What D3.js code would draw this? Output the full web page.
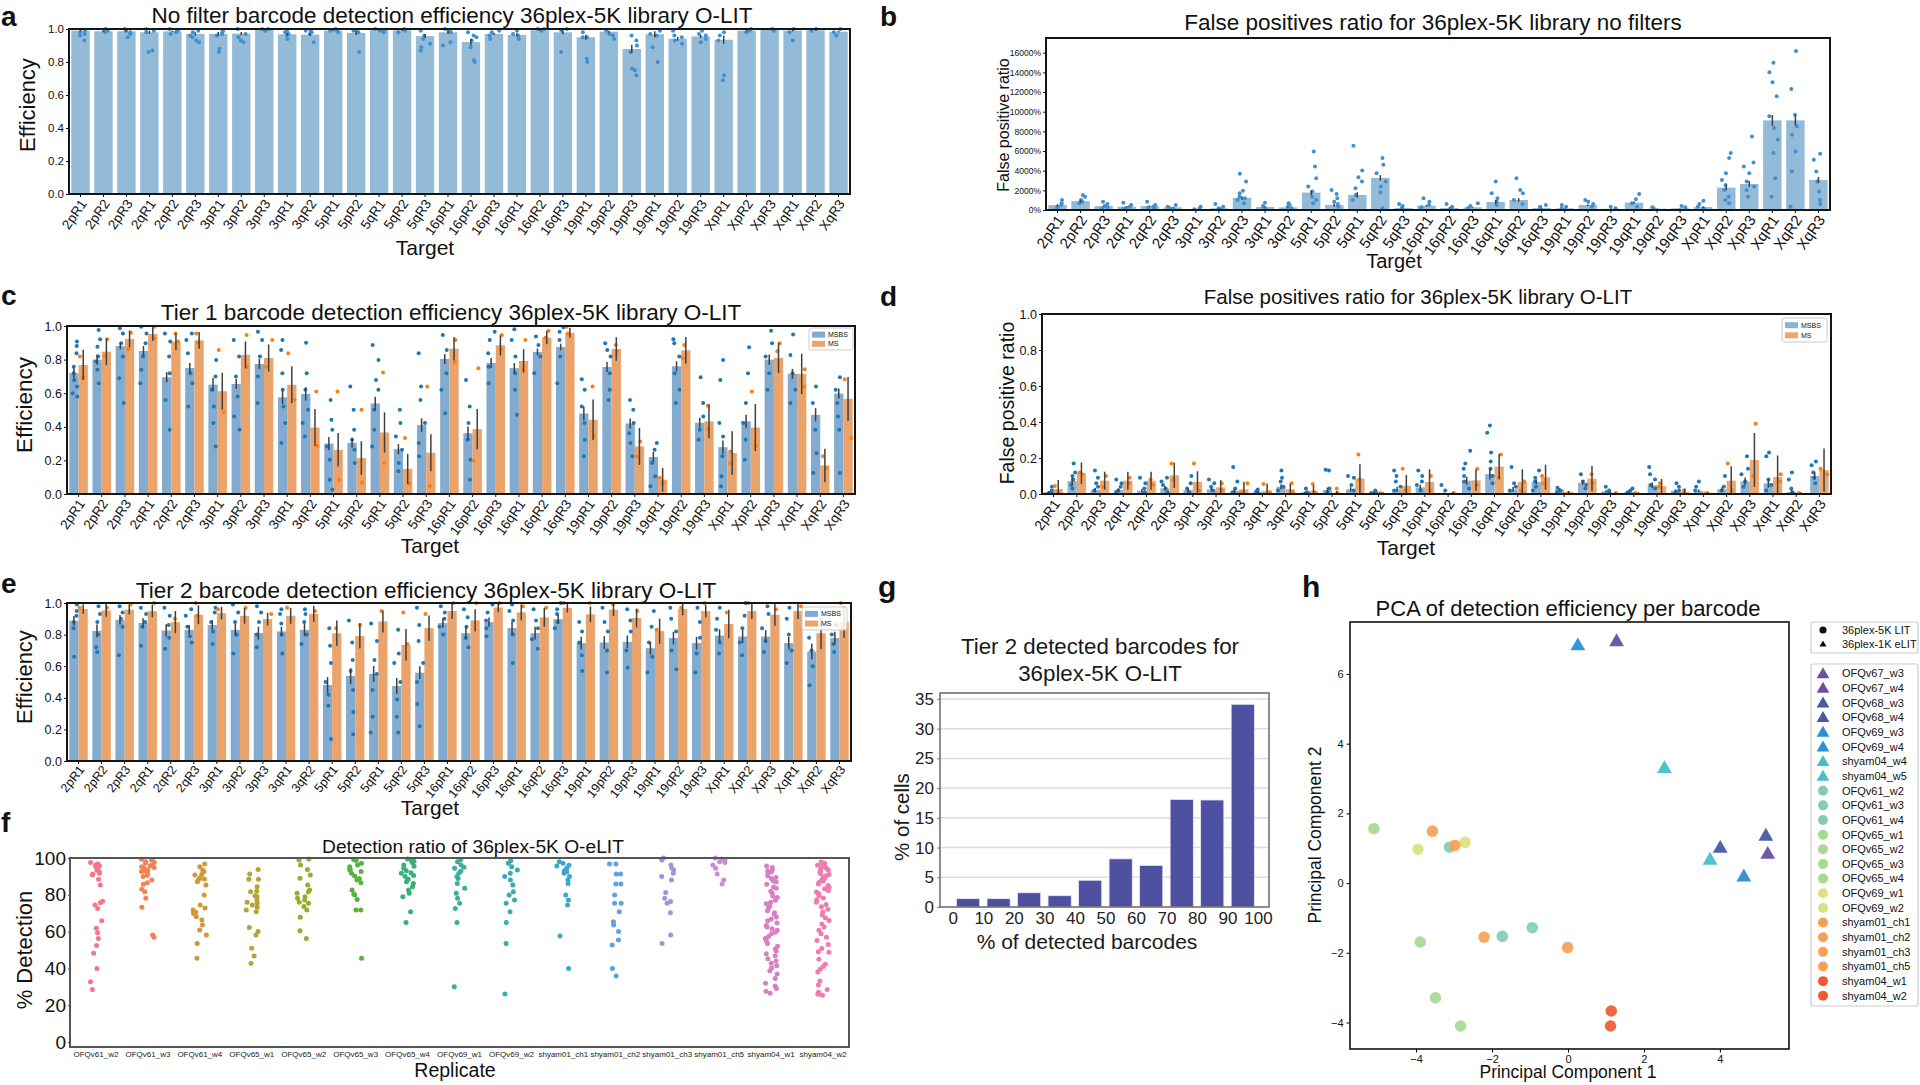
<!DOCTYPE html>
<html><head><meta charset="utf-8">
<script src="https://cdn.jsdelivr.net/npm/d3@7"></script>
<style>body{margin:0;background:#fff;} svg{display:block;}</style>
</head><body><svg id="c" width="1920" height="1085"></svg>
<script>
// ---------------- DATA ----------------
const targets = ["2pR1","2pR2","2pR3","2qR1","2qR2","2qR3","3pR1","3pR2","3pR3","3qR1","3qR2","5pR1","5pR2","5qR1","5qR2","5qR3","16pR1","16pR2","16pR3","16qR1","16qR2","16qR3","19pR1","19pR2","19pR3","19qR1","19qR2","19qR3","XpR1","XpR2","XpR3","XqR1","XqR2","XqR3"];

// panel a
const aEff = [0.99,0.986,0.986,0.98,0.986,0.97,0.97,0.972,0.996,0.968,0.966,0.99,0.976,0.994,0.992,0.957,0.98,0.921,0.97,0.964,0.992,0.98,0.95,0.984,0.879,0.968,0.941,0.955,0.935,0.99,0.996,0.99,0.992,0.984];
const aErr = [0.004,0.003,0.006,0.01,0.004,0.01,0.012,0.01,0.002,0.008,0.008,0.004,0.012,0.003,0.004,0.012,0.01,0.02,0.006,0.01,0.003,0.012,0.015,0.006,0.025,0.018,0.012,0.01,0.025,0.004,0.002,0.004,0.003,0.005];
const aDots = ["0.99 0.97 0.93 0.98 0.96","1.0 0.99 0.99 0.98","0.99 0.98 0.95 0.97 1.0","1.0 0.99 0.87 0.86 0.98","1.0 0.99 0.98 0.99 0.97","0.99 0.96 0.95 0.93 0.92 0.98","0.99 0.97 0.96 0.88 0.86 0.98","1.0 0.97 0.93 0.92 0.95","1.0 1.0 0.99","0.99 0.98 0.96 0.94 0.97","0.99 0.98 0.97 0.92 0.99","1.0 0.99 0.98 0.99","0.99 0.98 0.86 0.99","1.0 0.99 0.99 0.98","1.0 0.99 0.98","0.99 0.96 0.94 0.91 0.87 0.89","1.0 0.98 0.92 0.90 0.99","0.98 0.96 0.93 0.89 0.80 0.81 0.95","0.99 0.98 0.96 0.94","0.99 0.97 0.94 0.96","1.0 0.99 1.0","1.0 0.99 0.86","0.98 0.95 0.95 0.82 0.80","0.99 0.97 0.94 0.96","0.96 0.93 0.90 0.86 0.76 0.75 0.72","0.99 0.96 0.89 0.80 0.97","0.99 0.96 0.95 0.93 0.91","0.99 0.96 0.94 0.92 0.97","0.98 0.96 0.93 0.72 0.69","1.0 0.99 0.98","1.0 0.99","1.0 0.98 0.93","1.0 0.99","1.0 0.98 0.96"];

// panel b (percent)
const bFP = [500,900,400,340,400,270,100,170,1230,300,270,1770,500,1530,3270,200,440,200,270,820,1020,200,170,510,130,750,130,170,300,2280,2650,9120,9120,3060];
const bErr = [80,120,60,60,60,40,30,40,180,50,40,250,150,280,280,40,70,40,50,200,180,40,30,80,30,120,20,30,60,280,300,550,500,300];
const bDots = ["1020 680 510 340 170 250","1530 1360 1020 850 680 900","850 610 410 270 150","750 510 340 170 100","850 510 340 170 250","510 340 170 100","340 170 70","610 340 170 100","3680 2890 1970 1700 1360 1020 680 1200","750 410 200 120","680 510 340 170","5960 4430 3230 2380 1870 1360 1020 680","2040 1630 1190 850 610 340","6540 4020 3340 2890 2210 1530 1020","5280 4600 3740 2890 2380 1770 170","610 410 170","1190 850 510 270","610 340 140","680 410 200","2890 1700 1190 850 510","3230 2040 1700 1020 610","510 340 170","510 340 170","1020 850 610 340","340 170","1630 1090 680 340","270 140","410 270 140","950 610 340 170","5790 5280 3740 3060 2550 2040 1360 1020 680","7490 4830 4430 3740 2890 2380 2040 1360","14980 14020 13000 11570 9530 8340 7150 5790 3230 1360","16170 12320 9700 8510 7660 5960 3910 340","5720 5110 3910 2890 1870 1020 610"];

// panel c
const cMSBS = [0.719,0.80,0.881,0.851,0.695,0.75,0.651,0.655,0.774,0.576,0.596,0.30,0.305,0.539,0.267,0.41,0.804,0.362,0.78,0.749,0.846,0.875,0.479,0.756,0.42,0.22,0.76,0.424,0.279,0.432,0.80,0.715,0.471,0.598];
const cMS = [0.768,0.847,0.923,0.952,0.907,0.915,0.612,0.828,0.81,0.65,0.396,0.263,0.214,0.366,0.149,0.246,0.865,0.386,0.885,0.792,0.931,0.96,0.442,0.863,0.283,0.085,0.855,0.432,0.244,0.396,0.81,0.715,0.17,0.566];
const cErrMSBS = [0.03,0.03,0.02,0.03,0.03,0.03,0.04,0.03,0.03,0.04,0.04,0.04,0.03,0.04,0.03,0.04,0.03,0.04,0.03,0.03,0.02,0.02,0.04,0.03,0.03,0.03,0.03,0.03,0.04,0.04,0.03,0.03,0.04,0.03];
const cErrMS = [0.09,0.08,0.05,0.04,0.05,0.05,0.11,0.08,0.08,0.11,0.11,0.10,0.10,0.12,0.09,0.11,0.07,0.12,0.06,0.07,0.04,0.03,0.12,0.07,0.11,0.07,0.08,0.1,0.13,0.14,0.09,0.12,0.1,0.13];
const cDotsMSBS = ["0.907 0.881 0.838 0.758 0.719 0.679 0.640 0.580 0.60","0.976 0.921 0.877 0.818 0.788 0.739 0.659","0.986 0.956 0.897 0.818 0.689 0.541","0.996 0.956 0.897 0.818 0.739 0.659","0.956 0.907 0.818 0.719 0.560 0.382","0.956 0.917 0.838 0.719 0.659 0.521","0.798 0.699 0.620 0.521 0.422 0.283","0.917 0.818 0.699 0.580 0.461 0.382","0.966 0.917 0.818 0.699 0.541","0.917 0.857 0.719 0.620 0.521 0.422 0.303","0.901 0.719 0.620 0.501 0.422 0.343","0.560 0.442 0.382 0.283 0.204 0.085 0.026","0.640 0.501 0.382 0.323 0.263 0.184","0.887 0.798 0.679 0.620 0.501 0.382 0.283","0.501 0.422 0.343 0.263 0.184 0.135","0.838 0.640 0.560 0.422 0.303 0.224","0.947 0.857 0.719 0.620 0.481","0.679 0.521 0.422 0.323 0.204 0.085","0.966 0.917 0.838 0.758 0.659","0.980 0.917 0.818 0.719 0.620 0.471","0.937 0.887 0.818 0.719","0.992 0.966 0.917 0.818 0.659","0.683 0.620 0.521 0.422 0.323 0.224","0.897 0.857 0.818 0.719 0.620 0.560","0.560 0.501 0.422 0.362 0.303 0.224","0.303 0.263 0.184 0.105 0.046","0.921 0.897 0.818 0.719 0.620 0.541","0.695 0.541 0.461 0.382 0.323","0.798 0.679 0.422 0.343 0.224 0.105 0.046","0.873 0.719 0.541 0.422 0.323 0.204","0.972 0.897 0.818 0.719 0.620","0.950 0.828 0.719 0.620 0.541","0.640 0.541 0.382 0.243 0.125","0.695 0.620 0.541 0.461 0.382 0.125"];
const cDotsMS = ["0.818 0.695","0.921 0.818","0.96 0.861","0.996 0.927","0.956 0.907","0.956 0.901","0.857 0.485","0.947 0.758","0.917 0.758","0.838 0.560","0.610 0.287","0.610 0.085","0.501 0.069","0.723 0.184","0.333 0.061","0.640 0.046","0.917 0.782","0.749 0.200","0.947 0.86","0.917 0.739","0.972 0.93","0.996 0.956","0.640 0.347","0.887 0.85","0.313 0.224","0.095 0.065","0.887 0.808","0.525 0.386","0.253 0.184","0.610 0.287","0.897 0.85","0.743 0.640","0.224 0.154","0.683 0.333"];

// panel d
const dMSBS = [0.011,0.072,0.022,0.022,0.018,0.031,0.022,0.026,0.018,0.013,0.04,0.007,0.022,0.026,0.011,0.026,0.037,0.004,0.074,0.111,0.026,0.067,0.026,0.063,0.015,0.011,0.048,0.018,0.018,0.026,0.07,0.059,0.011,0.1];
const dMS = [0.028,0.115,0.074,0.074,0.074,0.104,0.067,0.037,0.026,0.018,0.026,0.018,0.007,0.085,0.005,0.046,0.067,0.007,0.076,0.152,0.067,0.093,0.011,0.085,0.004,0.005,0.044,0.011,0.007,0.074,0.189,0.094,0.005,0.133];
const dErrMSBS = [0.006,0.02,0.012,0.01,0.01,0.012,0.01,0.01,0.012,0.004,0.014,0.004,0.014,0.012,0.004,0.014,0.014,0.004,0.022,0.03,0.014,0.014,0.006,0.012,0.006,0.004,0.016,0.008,0.008,0.012,0.022,0.024,0.012,0.02];
const dErrMS = [0.05,0.06,0.05,0.05,0.05,0.07,0.06,0.04,0.04,0.04,0.03,0.03,0.01,0.08,0.005,0.06,0.07,0.005,0.06,0.07,0.07,0.07,0.005,0.07,0.005,0.005,0.04,0.02,0.005,0.08,0.15,0.12,0.005,0.12];
const dDotsMSBS = ["0.04 0.02 0.01 0.005","0.17 0.12 0.10 0.08 0.05 0.03","0.13 0.09 0.06 0.04 0.02","0.08 0.06 0.04 0.02 0.01","0.09 0.06 0.03 0.01","0.09 0.07 0.05 0.03 0.01","0.10 0.06 0.03 0.01","0.08 0.06 0.04 0.02","0.15 0.07 0.03 0.01","0.025 0.015 0.005","0.13 0.09 0.07 0.04 0.02","0.03 0.01 0.005","0.135 0.13 0.03 0.01","0.10 0.09 0.05 0.02","0.02 0.01 0.005","0.13 0.10 0.07 0.04 0.02","0.13 0.10 0.07 0.05 0.02","0.05 0.02","0.24 0.17 0.14 0.10 0.07 0.03","0.38 0.34 0.23 0.18 0.14 0.10 0.06","0.15 0.06 0.04 0.02","0.13 0.09 0.07 0.04 0.02","0.035 0.02 0.01","0.11 0.07 0.05 0.03","0.04 0.02 0.01","0.03 0.02 0.01","0.15 0.11 0.08 0.05 0.03","0.06 0.04 0.02 0.01","0.07 0.04 0.02","0.10 0.04 0.02","0.21 0.14 0.11 0.07 0.04","0.23 0.21 0.08 0.05 0.02","0.12 0.08 0.03 0.01","0.18 0.16 0.12 0.09 0.06"];
const dDotsMS = ["0.045 0.01","0.11 0.12","0.10 0.04","0.09 0.06","0.08 0.05","0.17 0.08","0.17 0.02","0.06 0.02","0.06 0.01","0.055 0.01","0.06 0.01","0.055 0.01","0.03 0.005","0.22 0.08","0.005","0.14 0.02","0.10 0.02","0.005","0.14 0.05","0.22 0.09","0.07 0.02","0.10 0.06","0.005","0.11 0.06","0.005","0.005","0.06 0.04","0.02 0.005","0.005","0.17 0.02","0.39 0.10","0.11 0.07","0.005","0.14 0.11"];

// panel e
const eMSBS = [0.888,0.824,0.894,0.873,0.826,0.83,0.86,0.83,0.809,0.82,0.83,0.481,0.538,0.551,0.475,0.559,0.873,0.809,0.879,0.841,0.809,0.898,0.746,0.75,0.754,0.714,0.778,0.746,0.794,0.788,0.788,0.746,0.693,0.778];
const eMS = [0.962,0.953,0.958,0.949,0.879,0.926,0.936,0.919,0.898,0.919,0.932,0.809,0.792,0.883,0.735,0.841,0.949,0.89,0.972,0.941,0.909,0.97,0.928,0.958,0.905,0.822,0.962,0.949,0.867,0.949,0.926,0.949,0.809,0.88];
const eErrMSBS = [0.03,0.04,0.03,0.03,0.04,0.03,0.03,0.04,0.04,0.03,0.04,0.05,0.05,0.05,0.05,0.04,0.03,0.04,0.03,0.04,0.04,0.03,0.04,0.04,0.04,0.04,0.04,0.04,0.04,0.04,0.04,0.04,0.05,0.04];
const eErrMS = [0.03,0.04,0.03,0.04,0.07,0.06,0.04,0.05,0.04,0.05,0.05,0.08,0.08,0.07,0.1,0.08,0.05,0.07,0.03,0.05,0.06,0.03,0.05,0.04,0.06,0.08,0.04,0.04,0.09,0.05,0.07,0.05,0.1,0.1];
const eDotsMSBS = ["0.99 0.95 0.92 0.88 0.84 0.66","0.98 0.93 0.88 0.80 0.72 0.69","0.98 0.94 0.90 0.85 0.67","0.97 0.93 0.88 0.85 0.73","0.97 0.92 0.86 0.78 0.71","0.96 0.92 0.85 0.79 0.75","0.97 0.94 0.88 0.82 0.74","0.99 0.94 0.88 0.80 0.68","0.98 0.94 0.88 0.80 0.72","0.96 0.93 0.87 0.80 0.68","0.96 0.93 0.88 0.80 0.74","0.84 0.73 0.62 0.50 0.42 0.35 0.14","0.89 0.75 0.64 0.57 0.45 0.31 0.17","0.87 0.76 0.64 0.55 0.45 0.28 0.18","0.83 0.68 0.62 0.50 0.39 0.28 0.18","0.97 0.86 0.76 0.62 0.50 0.36 0.22","0.98 0.94 0.90 0.85 0.80","0.96 0.91 0.85 0.78 0.72","0.99 0.94 0.89 0.84 0.79","0.99 0.95 0.89 0.80 0.62","0.96 0.89 0.84 0.77 0.71","1.0 0.96 0.93 0.88 0.84","0.88 0.82 0.75 0.67 0.57","0.97 0.88 0.82 0.70 0.56","0.96 0.89 0.82 0.70 0.59","0.95 0.85 0.75 0.66 0.56","0.97 0.90 0.82 0.70 0.58","0.97 0.88 0.78 0.68 0.56","0.97 0.90 0.83 0.75 0.68","1.0 0.92 0.84 0.75 0.67","0.98 0.93 0.84 0.76 0.69","0.97 0.90 0.80 0.70 0.62","0.88 0.78 0.70 0.60 0.48","0.86 0.80 0.74 0.69"];
const eDotsMS = ["0.97","0.97","0.99","1.0","0.90","1.0 0.92","0.96","0.97","0.93","0.97","0.95","0.84","0.86","0.95","0.94 0.74","0.93","1.0","1.0","1.0","0.98","0.97","1.0","1.0","0.99","0.95","0.83","0.97","1.0","0.94","1.0","0.96","0.98","0.86","1.0"];

// panel f
const replicates = ["OFQv61_w2","OFQv61_w3","OFQv61_w4","OFQv65_w1","OFQv65_w2","OFQv65_w3","OFQv65_w4","OFQv69_w1","OFQv69_w2","shyam01_ch1","shyam01_ch2","shyam01_ch3","shyam01_ch5","shyam04_w1","shyam04_w2"];
const fColors = ["#f2778d","#f3824f","#d3973a","#b5a434","#98ab33","#57b33b","#35b279","#35b09c","#37acb2","#3aa8cc","#5ea2e2","#a393d9","#c98cd9","#d97fc3","#f17aae"];
const fDots = [
 "96.7 95.3 94.4 93.5 92.6 91.7 90.8 88.4 85.3 96.2 95.7 93.8 92.0 91.3 97.5 75.7 74.5 72.6 76.5 65.9 61.8 59.4 56.3 52.4 48.2 40.0 32.8 28.6",
 "99.3 98.9 98.0 97.1 96.2 95.3 94.4 93.5 92.6 91.7 89.9 88.0 85.7 83.0 81.7 78.1 73.2 58.2 56.9 99.0 97.6 95.8 94.8 93.0 90.5 86.5",
 "96.7 95.3 92.6 90.8 89.0 88.0 87.1 85.3 79.9 74.5 71.7 69.9 68.1 66.3 63.6 60.9 58.2 53.6 45.5 93.5 91.0 88.6 70.5 72.8",
 "93.8 91.3 88.4 84.4 81.7 79.0 77.2 74.5 73.2 71.7 70.8 62.3 60.0 58.2 50.9 46.7 42.8 79.5 76.0 82.0 88.5 75.5",
 "98.9 96.2 93.8 90.8 89.0 85.3 82.6 80.8 79.0 78.1 77.2 75.4 73.6 71.7 67.8 60.5 56.3 99.5 81.5 76.0",
 "98.6 97.1 96.2 95.3 93.5 92.6 91.7 90.2 88.9 86.6 82.6 79.9 77.5 71.7 45.5 99.2 94.0 88.0 80.5 71.7",
 "98.9 97.5 96.2 94.4 93.1 91.7 89.9 87.1 86.2 84.4 82.6 80.8 79.0 70.8 64.9 99.5 98.2 95.5 92.0 90.5 88.5",
 "98.0 96.2 94.4 91.7 88.9 86.2 83.5 80.8 78.1 75.4 72.6 64.9 30.1 99.0 95.0 92.8 90.0",
 "98.6 97.1 95.3 93.5 91.7 89.9 88.0 85.3 81.7 79.9 77.2 75.4 70.8 64.9 53.6 26.1",
 "97.1 95.7 94.4 93.1 91.7 89.9 88.0 86.2 79.9 77.2 74.5 57.6 40.0 98.0 96.0 92.5",
 "96.7 91.3 85.9 79.9 75.4 70.8 65.4 63.6 60.0 55.4 52.7 40.0 35.9 96.7 91.3 85.9 75.4",
 "98.9 96.2 93.5 91.7 89.9 88.0 81.2 78.1 76.3 75.4 70.3 58.2 53.6 100 94.5",
 "98.9 97.5 96.2 94.4 91.3 88.0 85.9 99.5 98.0 100",
 "95.6 94.9 93.8 93.1 92.4 91.5 90.3 89.6 88.8 87.5 86.9 85.7 84.2 83.6 82.0 80.9 79.4 78.6 77.1 76.0 75.2 73.8 72.9 71.4 70.2 69.5 68.0 66.8 65.9 64.7 63.3 62.5 61.6 60.8 59.7 58.9 57.4 56.2 55.0 53.5 52.1 50.6 49.4 48.0 46.9 45.3 44.0 42.8 41.5 40.2 38.7 36.9 34.5 32.0 30.4 29.1 27.6 26.5",
 "97.8 97.2 96.6 96.0 95.4 94.7 94.1 93.5 92.9 92.2 91.6 91.0 90.3 89.6 88.9 88.2 87.5 86.7 85.9 85.0 84.1 83.3 82.4 81.5 80.6 79.5 78.3 77.2 76.0 74.8 73.5 72.1 70.6 69.0 67.5 66.0 64.2 62.5 60.8 58.9 57.0 55.2 53.0 50.8 49.0 48.8 45.0 42.3 41.0 39.6 38.0 33.2 31.0 28.5 27.0 26.0 25.4"
];

// panel g
const gBinStart = [0,10,20,30,40,50,60,70,80,90];
const gCells = [1.4,1.4,2.4,1.9,4.5,8.1,7.0,18.1,18.0,34.1];
const gTicksX = [0,10,20,30,40,50,60,70,80,90,100];
const gTicksY = [0,5,10,15,20,25,30,35];

// panel h
const hNames = ["OFQv67_w3","OFQv67_w4","OFQv68_w3","OFQv68_w4","OFQv69_w3","OFQv69_w4","shyam04_w4","shyam04_w5","OFQv61_w2","OFQv61_w3","OFQv61_w4","OFQv65_w1","OFQv65_w2","OFQv65_w3","OFQv65_w4","OFQv69_w1","OFQv69_w2","shyam01_ch1","shyam01_ch2","shyam01_ch3","shyam01_ch5","shyam04_w1","shyam04_w2"];
const hLibrary = ["1K","1K","1K","1K","1K","1K","1K","1K","5K","5K","5K","5K","5K","5K","5K","5K","5K","5K","5K","5K","5K","5K","5K"];
const hColors = ["#6a4fa4","#6a4fa4","#4a57a8","#4a57a8","#2d8fd3","#2d8fd3","#45bfcb","#45bfcb","#80cfb2","#80cfb2","#80cfb2","#a6d993","#a6d993","#a6d993","#a6d993","#d8e37e","#d8e37e","#f9a057","#f9a057","#f9a057","#f9a057","#ef5a34","#ef5a34"];
const hPC1 = [1.28,5.26,4.01,5.21,0.26,4.63,2.54,3.74,-3.12,-1.73,-0.94,-5.11,-3.89,-3.49,-2.83,-3.95,-2.71,-3.57,-2.98,-2.21,-0.01,1.14,1.12];
const hPC2 = [6.92,0.82,0.99,1.34,6.80,0.17,3.28,0.65,1.03,-1.53,-1.28,1.56,-1.69,-3.29,-4.10,0.97,1.17,1.49,1.08,-1.55,-1.85,-3.67,-4.10];
const hTicksX = [-4,-2,0,2,4];
const hTicksY = [-4,-2,0,2,4,6];

// ---------------- DRAWING ----------------
const FONT = '"Liberation Sans", Arial, Helvetica, sans-serif';
const svg = d3.select("#c");
svg.append("rect").attr("width",1920).attr("height",1085).attr("fill","#fff");

function txt(x,y,s,size,opt={}){
  const t = svg.append("text").attr("x",x).attr("y",y).text(s)
    .attr("font-size",size).attr("font-family",FONT)
    .attr("text-anchor",opt.anchor||"middle").attr("fill",opt.fill||"#111");
  if(opt.weight) t.attr("font-weight",opt.weight);
  if(opt.dy) t.attr("dy",opt.dy);
  if(opt.rotate!=null) t.attr("transform",`rotate(${opt.rotate},${x},${y})`);
  return t;
}
const parse = s => s.trim().split(/\s+/).map(Number);
function jit(i,j,k){ const v=Math.sin(i*127.1+j*311.7+k*74.7+1.3)*43758.5453; return v-Math.floor(v)-0.5; }

function barPanel(c){
  const b=c.box;
  const x=d3.scaleBand().domain(targets).range([b.l,b.r]);
  const y=d3.scaleLinear().domain(c.ydom).range([b.b,b.t]);
  const g=svg.append("g");
  const n=c.series.length, gw=x.bandwidth()*0.8, bw=gw/n;
  const cx=(d,si)=>x(d)+x.bandwidth()/2-gw/2+bw*(si+0.5);
  c.series.forEach((s,si)=>{
    g.append("g").selectAll("rect").data(targets).join("rect")
      .attr("x",d=>cx(d,si)-bw/2).attr("width",bw)
      .attr("y",(d,i)=>y(s.values[i])).attr("height",(d,i)=>y(c.ydom[0])-y(s.values[i]))
      .attr("fill",s.color);
  });
  c.series.forEach((s,si)=>{
    const pts=[];
    targets.forEach((d,i)=>parse(s.dots[i]).forEach((v,j)=>pts.push({d,i,j,v})));
    g.append("g").selectAll("circle").data(pts).join("circle")
      .attr("cx",p=>cx(p.d,si)+jit(p.i,p.j,si)*bw*c.jitter)
      .attr("cy",p=>y(Math.min(p.v,c.ydom[1]))).attr("r",c.r).attr("fill",s.dotColor);
  });
  c.series.forEach((s,si)=>{
    g.append("g").selectAll("line").data(targets).join("line")
      .attr("x1",d=>cx(d,si)).attr("x2",d=>cx(d,si))
      .attr("y1",(d,i)=>y(Math.max(c.ydom[0],s.values[i]-s.err[i])))
      .attr("y2",(d,i)=>y(Math.min(c.ydom[1],s.values[i]+s.err[i])))
      .attr("stroke","#404040").attr("stroke-width",1.5);
  });
  const yg=svg.append("g").attr("transform",`translate(${b.l},0)`)
    .call(d3.axisLeft(y).tickValues(c.yticks).tickFormat(c.yfmt).tickSize(3).tickPadding(2));
  yg.select(".domain").remove();
  yg.selectAll("text").attr("font-size",c.ytickSize).attr("font-family",FONT).attr("fill","#111");
  yg.selectAll("line").attr("stroke","#111");
  const xg=svg.append("g").attr("transform",`translate(0,${b.b})`)
    .call(d3.axisBottom(x).tickSize(3).tickPadding(2));
  xg.select(".domain").remove();
  xg.selectAll("line").attr("stroke","#111");
  xg.selectAll("text").attr("font-size",c.xtickSize).attr("font-family",FONT).attr("fill","#111")
    .attr("y",0).attr("dy","0.35em").attr("text-anchor","end")
    .attr("transform",`translate(3,${c.xtickOff}) rotate(${c.rot||-55})`);
  svg.append("rect").attr("x",b.l).attr("y",b.t).attr("width",b.r-b.l).attr("height",b.b-b.t)
    .attr("fill","none").attr("stroke","#151515").attr("stroke-width",2);
  txt(c.title[0],c.title[1],c.title[2],c.title[3]);
  txt(c.ylab[0],c.ylab[1],c.ylab[2],c.ylab[3],{rotate:-90});
  txt(c.xlab[0],c.xlab[1],"Target",c.xlab[2]);
  if(c.legend){
    const L=c.legend;
    svg.append("rect").attr("x",L[0]).attr("y",L[1]).attr("width",L[2]).attr("height",L[3])
      .attr("fill","#fff").attr("fill-opacity",0.85).attr("stroke","#ccc").attr("stroke-width",1).attr("rx",2);
    c.series.forEach((s,si)=>{
      const yy=L[1]+L[3]*(si===0?0.3:0.72);
      svg.append("rect").attr("x",L[0]+3).attr("y",yy-3).attr("width",13).attr("height",6).attr("fill",s.color);
      txt(L[0]+19,yy+2.5,s.name,7,{anchor:"start"});
    });
  }
}

const BLUE_BAR="#82abcf", ORANGE_BAR="#eaa46b", BLUE_DOT="#1f77b4", ORANGE_DOT="#ff7f0e";

// panel a
barPanel({box:{l:69,r:850,t:29,b:194}, ydom:[0,1], yticks:[0,0.2,0.4,0.6,0.8,1.0], yfmt:d3.format(".1f"),
  ytickSize:11.5, xtickSize:13.5, xtickOff:7, r:2, jitter:0.6,
  series:[{name:"",values:aEff,err:aErr,dots:aDots,color:"#93bad6",dotColor:"#3d91d2"}],
  title:[452,23,"No filter barcode detection efficiency 36plex-5K library O-LIT",22.5],
  ylab:[35,105,"Efficiency",22], xlab:[425,255,21]});
txt(1,26,"a",28,{anchor:"start",weight:"bold"});

// panel b
barPanel({box:{l:1046,r:1830,t:38,b:210}, ydom:[0,17500], yticks:d3.range(0,16001,2000), yfmt:d=>d+"%",
  ytickSize:8.5, xtickSize:15, xtickOff:7, r:2, jitter:0.6,
  series:[{name:"",values:bFP,err:bErr,dots:bDots,color:"#93bad6",dotColor:"#3d91d2"}],
  title:[1433,30,"False positives ratio for 36plex-5K library no filters",22.5],
  ylab:[1009,125,"False positive ratio",16], xlab:[1394,268,20]});
txt(880,26,"b",28,{anchor:"start",weight:"bold"});

// panel c
barPanel({box:{l:67,r:855,t:326,b:494}, ydom:[0,1], yticks:[0,0.2,0.4,0.6,0.8,1.0], yfmt:d3.format(".1f"),
  ytickSize:12.5, xtickSize:13.5, xtickOff:7, r:2, jitter:0.8,
  series:[{name:"MSBS",values:cMSBS,err:cErrMSBS,dots:cDotsMSBS,color:BLUE_BAR,dotColor:BLUE_DOT},
          {name:"MS",values:cMS,err:cErrMS,dots:cDotsMS,color:ORANGE_BAR,dotColor:ORANGE_DOT}],
  legend:[809,328,44,22],
  title:[451,320,"Tier 1 barcode detection efficiency 36plex-5K library O-LIT",22.5],
  ylab:[32,405,"Efficiency",22.5], xlab:[430,553,21]});
txt(1,305,"c",28,{anchor:"start",weight:"bold"});

// panel d
barPanel({box:{l:1042,r:1831,t:314,b:494}, ydom:[0,1], yticks:[0,0.2,0.4,0.6,0.8,1.0], yfmt:d3.format(".1f"),
  ytickSize:12.5, xtickSize:14, xtickOff:7, r:2, jitter:0.8,
  series:[{name:"MSBS",values:dMSBS,err:dErrMSBS,dots:dDotsMSBS,color:"#8db1d3",dotColor:BLUE_DOT},
          {name:"MS",values:dMS,err:dErrMS,dots:dDotsMS,color:"#eca872",dotColor:ORANGE_DOT}],
  legend:[1782,318,45,24],
  title:[1418,304,"False positives ratio for 36plex-5K library O-LIT",20.5],
  ylab:[1014,403,"False positive ratio",19.5], xlab:[1406,555,21]});
txt(880,306,"d",28,{anchor:"start",weight:"bold"});

// panel e
barPanel({box:{l:67,r:851,t:603,b:761}, ydom:[0,1], yticks:[0,0.2,0.4,0.6,0.8,1.0], yfmt:d3.format(".1f"),
  ytickSize:12.5, xtickSize:12.5, xtickOff:6, rot:-52, r:2, jitter:0.8,
  series:[{name:"MSBS",values:eMSBS,err:eErrMSBS,dots:eDotsMSBS,color:BLUE_BAR,dotColor:BLUE_DOT},
          {name:"MS",values:eMS,err:eErrMS,dots:eDotsMS,color:ORANGE_BAR,dotColor:ORANGE_DOT}],
  legend:[802,607,45,23],
  title:[426,598,"Tier 2 barcode detection efficiency 36plex-5K library O-LIT",22.5],
  ylab:[32,677,"Efficiency",22], xlab:[430,815,21]});
txt(1,593,"e",28,{anchor:"start",weight:"bold"});

// panel f
(function(){
  const b={l:70,r:849,t:858,b:1047};
  const x=d3.scaleBand().domain(replicates).range([b.l,b.r]);
  const y=d3.scaleLinear().domain([-2.7,100]).range([b.b,b.t]);
  const pts=[];
  replicates.forEach((d,i)=>parse(fDots[i]).forEach((v,j)=>pts.push({d,i,j,v})));
  svg.append("g").selectAll("circle").data(pts).join("circle")
    .attr("cx",p=>x(p.d)+x.bandwidth()/2+jit(p.i,p.j,7)*x.bandwidth()*0.26)
    .attr("cy",p=>y(p.v)).attr("r",2.5).attr("fill",p=>fColors[p.i]);
  const yg=svg.append("g").attr("transform",`translate(${b.l},0)`)
    .call(d3.axisLeft(y).tickValues([0,20,40,60,80,100]).tickSize(2).tickPadding(2));
  yg.select(".domain").remove();
  yg.selectAll("text").attr("font-size",19).attr("font-family",FONT).attr("fill","#111");
  yg.selectAll("line").attr("stroke","#444");
  const xg=svg.append("g").attr("transform",`translate(0,${b.b})`)
    .call(d3.axisBottom(x).tickSize(0).tickPadding(4));
  xg.select(".domain").remove();
  xg.selectAll("text").attr("font-size",8).attr("font-family",FONT).attr("fill","#222");
  svg.append("rect").attr("x",b.l).attr("y",b.t).attr("width",b.r-b.l).attr("height",b.b-b.t)
    .attr("fill","none").attr("stroke","#555").attr("stroke-width",2);
  txt(473,853,"Detection ratio of 36plex-5K O-eLIT",19.2);
  txt(32,950,"% Detection",22,{rotate:-90});
  txt(455,1077,"Replicate",19.5);
  txt(1,832,"f",28,{anchor:"start",weight:"bold"});
})();

// panel g
(function(){
  const b={l:940,r:1269,t:693,b:907};
  const x=d3.scaleLinear().domain([-4.2,103.6]).range([b.l,b.r]);
  const y=d3.scaleLinear().domain([0,36]).range([b.b,b.t]);
  svg.append("g").selectAll("line").data(gTicksY.slice(1)).join("line")
    .attr("x1",b.l).attr("x2",b.r).attr("y1",d=>y(d)).attr("y2",d=>y(d))
    .attr("stroke","#dcdcdc").attr("stroke-width",1.5);
  svg.append("g").selectAll("rect").data(gCells).join("rect")
    .attr("x",(d,i)=>x(gBinStart[i]+1.2)).attr("width",(d,i)=>x(gBinStart[i]+8.8)-x(gBinStart[i]+1.2))
    .attr("y",d=>y(d)).attr("height",d=>y(0)-y(d))
    .attr("fill","#4e50a1").attr("stroke","#e8e8f4").attr("stroke-width",0.8);
  const yg=svg.append("g").attr("transform",`translate(${b.l},0)`)
    .call(d3.axisLeft(y).tickValues(gTicksY).tickSize(3).tickPadding(3));
  yg.select(".domain").remove();
  yg.selectAll("text").attr("font-size",17).attr("font-family",FONT).attr("fill","#222");
  yg.selectAll("line").attr("stroke","#888");
  const xg=svg.append("g").attr("transform",`translate(0,${b.b})`)
    .call(d3.axisBottom(x).tickValues(gTicksX).tickSize(0).tickPadding(5));
  xg.select(".domain").remove();
  xg.selectAll("text").attr("font-size",17).attr("font-family",FONT).attr("fill","#222");
  svg.append("rect").attr("x",b.l).attr("y",b.t).attr("width",b.r-b.l).attr("height",b.b-b.t)
    .attr("fill","none").attr("stroke","#6a6a6a").attr("stroke-width",1.5);
  txt(1100,654,"Tier 2 detected barcodes for",22.3,{fill:"#1a1a1a"});
  txt(1100,681,"36plex-5K O-LIT",22.3,{fill:"#1a1a1a"});
  txt(909,817,"% of cells",20.5,{rotate:-90,fill:"#1a1a1a"});
  txt(1087,949,"% of detected barcodes",21,{fill:"#1a1a1a"});
  txt(878,597,"g",30,{anchor:"start",weight:"bold"});
})();

// panel h
(function(){
  const b={l:1350,r:1789,t:622,b:1049};
  const x=d3.scaleLinear().domain([-5.74,5.82]).range([b.l,b.r]);
  const y=d3.scaleLinear().domain([-4.76,7.49]).range([b.b,b.t]);
  const tri=d3.symbol().type(d3.symbolTriangle).size(95)();
  const g=svg.append("g");
  hNames.forEach((n,i)=>{
    if(hLibrary[i]==="5K"){
      g.append("circle").attr("cx",x(hPC1[i])).attr("cy",y(hPC2[i])).attr("r",5.8)
        .attr("fill",hColors[i]).attr("fill-opacity",0.92);
    }
  });
  hNames.forEach((n,i)=>{
    if(hLibrary[i]==="1K"){
      g.append("path").attr("d",tri).attr("transform",`translate(${x(hPC1[i])},${y(hPC2[i])})`)
        .attr("fill",hColors[i]).attr("fill-opacity",0.95);
    }
  });
  const fmt=d=>d<0?"\u2212"+Math.abs(d):String(d);
  const xg=svg.append("g").attr("transform",`translate(0,${b.b})`)
    .call(d3.axisBottom(x).tickValues(hTicksX).tickFormat(fmt).tickSize(3.5).tickPadding(3));
  xg.select(".domain").remove();
  xg.selectAll("text").attr("font-size",11).attr("font-family",FONT).attr("fill","#111");
  const yg=svg.append("g").attr("transform",`translate(${b.l},0)`)
    .call(d3.axisLeft(y).tickValues(hTicksY).tickFormat(fmt).tickSize(3.5).tickPadding(3));
  yg.select(".domain").remove();
  yg.selectAll("text").attr("font-size",11).attr("font-family",FONT).attr("fill","#111");
  svg.append("rect").attr("x",b.l).attr("y",b.t).attr("width",b.r-b.l).attr("height",b.b-b.t)
    .attr("fill","none").attr("stroke","#111").attr("stroke-width",1.6);
  txt(1568,616,"PCA of detection efficiency per barcode",22);
  txt(1568,1078,"Principal Component 1",17.5);
  txt(1321,835,"Principal Component 2",17.5,{rotate:-90});
  txt(1302,597,"h",30,{anchor:"start",weight:"bold"});
  // legend 1 (library)
  svg.append("rect").attr("x",1811).attr("y",622).attr("width",107).attr("height",31)
    .attr("fill","#fff").attr("stroke","#ccc").attr("stroke-width",1.2).attr("rx",2);
  svg.append("circle").attr("cx",1823).attr("cy",630).attr("r",3.6).attr("fill","#111");
  svg.append("path").attr("d",d3.symbol().type(d3.symbolTriangle).size(22)()).attr("transform","translate(1823,644.5)").attr("fill","#111");
  txt(1842,630,"36plex-5K LIT",11,{anchor:"start",dy:"0.35em"});
  txt(1842,644,"36plex-1K eLIT",11,{anchor:"start",dy:"0.35em"});
  // legend 2 (replicates)
  svg.append("rect").attr("x",1811).attr("y",664).attr("width",107).attr("height",342)
    .attr("fill","#fff").attr("stroke","#ccc").attr("stroke-width",1.2).attr("rx",2);
  const triS=d3.symbol().type(d3.symbolTriangle).size(70)();
  hNames.forEach((n,i)=>{
    const yy=673.5+i*14.65;
    if(hLibrary[i]==="1K") svg.append("path").attr("d",triS).attr("transform",`translate(1823,${yy+1})`).attr("fill",hColors[i]);
    else svg.append("circle").attr("cx",1823).attr("cy",yy).attr("r",5).attr("fill",hColors[i]);
    txt(1842,yy,n,11,{anchor:"start",dy:"0.35em"});
  });
})();
</script>
</body></html>
